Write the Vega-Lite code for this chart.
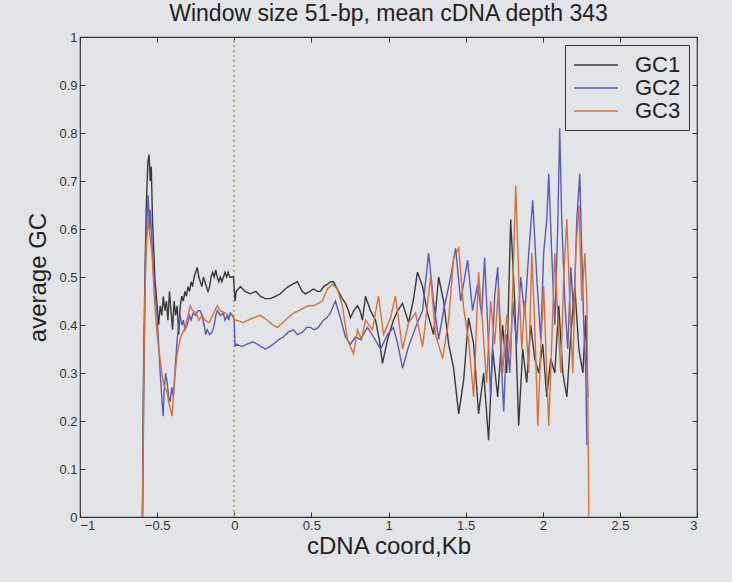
{
  "$schema": "https://vega.github.io/schema/vega-lite/v6.json",
  "width": 617,
  "height": 480,
  "autosize": "none",
  "padding": {"left": 80, "top": 37, "right": 35, "bottom": 65},
  "background": "#e3e4e7",
  "title": {"text": "Window size 51-bp, mean cDNA depth 343", "fontSize": 23, "font": "Liberation Sans", "fontWeight": "normal", "color": "#222", "offset": 5},
  "config": {
    "view": {"stroke": "#333", "strokeWidth": 1.2},
    "axis": {"labelFont": "Liberation Sans", "titleFont": "Liberation Sans", "labelColor": "#333", "titleColor": "#222", "domainColor": "#333", "tickColor": "#333", "grid": false, "labelFontSize": 13, "titleFontSize": 24, "titleFontWeight": "normal"}
  },
  "data": {"values": [
    {"s":"GC1","x":-0.595,"y":0},{"s":"GC1","x":-0.59,"y":0.25},{"s":"GC1","x":-0.58,"y":0.48},{"s":"GC1","x":-0.57,"y":0.65},{"s":"GC1","x":-0.56,"y":0.74},{"s":"GC1","x":-0.552,"y":0.755},{"s":"GC1","x":-0.545,"y":0.7},{"s":"GC1","x":-0.538,"y":0.73},{"s":"GC1","x":-0.53,"y":0.62},{"s":"GC1","x":-0.515,"y":0.5},{"s":"GC1","x":-0.5,"y":0.44},{"s":"GC1","x":-0.49,"y":0.4},{"s":"GC1","x":-0.48,"y":0.44},{"s":"GC1","x":-0.47,"y":0.42},{"s":"GC1","x":-0.46,"y":0.46},{"s":"GC1","x":-0.45,"y":0.43},{"s":"GC1","x":-0.44,"y":0.45},{"s":"GC1","x":-0.43,"y":0.41},{"s":"GC1","x":-0.42,"y":0.47},{"s":"GC1","x":-0.41,"y":0.43},{"s":"GC1","x":-0.4,"y":0.39},{"s":"GC1","x":-0.39,"y":0.45},{"s":"GC1","x":-0.38,"y":0.42},{"s":"GC1","x":-0.37,"y":0.44},{"s":"GC1","x":-0.36,"y":0.38},{"s":"GC1","x":-0.35,"y":0.44},{"s":"GC1","x":-0.34,"y":0.46},{"s":"GC1","x":-0.33,"y":0.45},{"s":"GC1","x":-0.32,"y":0.47},{"s":"GC1","x":-0.31,"y":0.46},{"s":"GC1","x":-0.3,"y":0.48},{"s":"GC1","x":-0.29,"y":0.47},{"s":"GC1","x":-0.28,"y":0.49},{"s":"GC1","x":-0.27,"y":0.48},{"s":"GC1","x":-0.26,"y":0.5},{"s":"GC1","x":-0.25,"y":0.51},{"s":"GC1","x":-0.24,"y":0.52},{"s":"GC1","x":-0.23,"y":0.5},{"s":"GC1","x":-0.22,"y":0.49},{"s":"GC1","x":-0.21,"y":0.48},{"s":"GC1","x":-0.2,"y":0.5},{"s":"GC1","x":-0.19,"y":0.49},{"s":"GC1","x":-0.18,"y":0.48},{"s":"GC1","x":-0.17,"y":0.47},{"s":"GC1","x":-0.16,"y":0.48},{"s":"GC1","x":-0.15,"y":0.5},{"s":"GC1","x":-0.14,"y":0.51},{"s":"GC1","x":-0.13,"y":0.5},{"s":"GC1","x":-0.12,"y":0.515},{"s":"GC1","x":-0.11,"y":0.5},{"s":"GC1","x":-0.1,"y":0.49},{"s":"GC1","x":-0.09,"y":0.5},{"s":"GC1","x":-0.08,"y":0.49},{"s":"GC1","x":-0.07,"y":0.5},{"s":"GC1","x":-0.06,"y":0.51},{"s":"GC1","x":-0.05,"y":0.5},{"s":"GC1","x":-0.04,"y":0.51},{"s":"GC1","x":-0.03,"y":0.5},{"s":"GC1","x":-0.015,"y":0.5},{"s":"GC1","x":-0.005,"y":0.5},{"s":"GC1","x":0.005,"y":0.45},{"s":"GC1","x":0.013,"y":0.47},{"s":"GC1","x":0.04,"y":0.48},{"s":"GC1","x":0.07,"y":0.47},{"s":"GC1","x":0.104,"y":0.465},{"s":"GC1","x":0.14,"y":0.47},{"s":"GC1","x":0.169,"y":0.46},{"s":"GC1","x":0.2,"y":0.455},{"s":"GC1","x":0.234,"y":0.455},{"s":"GC1","x":0.27,"y":0.46},{"s":"GC1","x":0.299,"y":0.465},{"s":"GC1","x":0.33,"y":0.475},{"s":"GC1","x":0.351,"y":0.48},{"s":"GC1","x":0.38,"y":0.485},{"s":"GC1","x":0.409,"y":0.49},{"s":"GC1","x":0.44,"y":0.47},{"s":"GC1","x":0.461,"y":0.465},{"s":"GC1","x":0.49,"y":0.47},{"s":"GC1","x":0.513,"y":0.475},{"s":"GC1","x":0.54,"y":0.47},{"s":"GC1","x":0.558,"y":0.47},{"s":"GC1","x":0.58,"y":0.48},{"s":"GC1","x":0.604,"y":0.485},{"s":"GC1","x":0.625,"y":0.49},{"s":"GC1","x":0.643,"y":0.49},{"s":"GC1","x":0.66,"y":0.48},{"s":"GC1","x":0.675,"y":0.47},{"s":"GC1","x":0.7,"y":0.455},{"s":"GC1","x":0.721,"y":0.445},{"s":"GC1","x":0.74,"y":0.43},{"s":"GC1","x":0.753,"y":0.415},{"s":"GC1","x":0.775,"y":0.43},{"s":"GC1","x":0.799,"y":0.44},{"s":"GC1","x":0.815,"y":0.43},{"s":"GC1","x":0.831,"y":0.41},{"s":"GC1","x":0.851,"y":0.46},{"s":"GC1","x":0.883,"y":0.43},{"s":"GC1","x":0.916,"y":0.41},{"s":"GC1","x":0.94,"y":0.37},{"s":"GC1","x":0.961,"y":0.32},{"s":"GC1","x":0.994,"y":0.37},{"s":"GC1","x":1.032,"y":0.41},{"s":"GC1","x":1.06,"y":0.43},{"s":"GC1","x":1.091,"y":0.445},{"s":"GC1","x":1.13,"y":0.405},{"s":"GC1","x":1.16,"y":0.45},{"s":"GC1","x":1.188,"y":0.51},{"s":"GC1","x":1.221,"y":0.48},{"s":"GC1","x":1.253,"y":0.425},{"s":"GC1","x":1.292,"y":0.38},{"s":"GC1","x":1.325,"y":0.5},{"s":"GC1","x":1.357,"y":0.45},{"s":"GC1","x":1.39,"y":0.36},{"s":"GC1","x":1.422,"y":0.31},{"s":"GC1","x":1.455,"y":0.215},{"s":"GC1","x":1.487,"y":0.285},{"s":"GC1","x":1.519,"y":0.415},{"s":"GC1","x":1.552,"y":0.36},{"s":"GC1","x":1.584,"y":0.215},{"s":"GC1","x":1.617,"y":0.3},{"s":"GC1","x":1.649,"y":0.16},{"s":"GC1","x":1.675,"y":0.35},{"s":"GC1","x":1.708,"y":0.25},{"s":"GC1","x":1.74,"y":0.4},{"s":"GC1","x":1.766,"y":0.3},{"s":"GC1","x":1.792,"y":0.62},{"s":"GC1","x":1.818,"y":0.45},{"s":"GC1","x":1.844,"y":0.19},{"s":"GC1","x":1.87,"y":0.35},{"s":"GC1","x":1.896,"y":0.28},{"s":"GC1","x":1.922,"y":0.4},{"s":"GC1","x":1.948,"y":0.33},{"s":"GC1","x":1.974,"y":0.3},{"s":"GC1","x":2.0,"y":0.36},{"s":"GC1","x":2.026,"y":0.25},{"s":"GC1","x":2.052,"y":0.33},{"s":"GC1","x":2.078,"y":0.3},{"s":"GC1","x":2.104,"y":0.44},{"s":"GC1","x":2.13,"y":0.3},{"s":"GC1","x":2.156,"y":0.25},{"s":"GC1","x":2.182,"y":0.38},{"s":"GC1","x":2.208,"y":0.48},{"s":"GC1","x":2.234,"y":0.35},{"s":"GC1","x":2.26,"y":0.3},{"s":"GC1","x":2.279,"y":0.42},{"s":"GC1","x":2.292,"y":0.25},

    {"s":"GC2","x":-0.595,"y":0},{"s":"GC2","x":-0.585,"y":0.3},{"s":"GC2","x":-0.575,"y":0.55},{"s":"GC2","x":-0.565,"y":0.63},{"s":"GC2","x":-0.558,"y":0.67},{"s":"GC2","x":-0.55,"y":0.6},{"s":"GC2","x":-0.545,"y":0.64},{"s":"GC2","x":-0.535,"y":0.58},{"s":"GC2","x":-0.525,"y":0.52},{"s":"GC2","x":-0.515,"y":0.47},{"s":"GC2","x":-0.5,"y":0.42},{"s":"GC2","x":-0.49,"y":0.36},{"s":"GC2","x":-0.48,"y":0.3},{"s":"GC2","x":-0.47,"y":0.25},{"s":"GC2","x":-0.461,"y":0.21},{"s":"GC2","x":-0.455,"y":0.26},{"s":"GC2","x":-0.445,"y":0.3},{"s":"GC2","x":-0.435,"y":0.28},{"s":"GC2","x":-0.425,"y":0.25},{"s":"GC2","x":-0.416,"y":0.24},{"s":"GC2","x":-0.405,"y":0.27},{"s":"GC2","x":-0.395,"y":0.25},{"s":"GC2","x":-0.383,"y":0.31},{"s":"GC2","x":-0.37,"y":0.37},{"s":"GC2","x":-0.36,"y":0.4},{"s":"GC2","x":-0.351,"y":0.42},{"s":"GC2","x":-0.34,"y":0.4},{"s":"GC2","x":-0.33,"y":0.41},{"s":"GC2","x":-0.32,"y":0.39},{"s":"GC2","x":-0.305,"y":0.4},{"s":"GC2","x":-0.29,"y":0.42},{"s":"GC2","x":-0.28,"y":0.41},{"s":"GC2","x":-0.266,"y":0.425},{"s":"GC2","x":-0.25,"y":0.42},{"s":"GC2","x":-0.235,"y":0.43},{"s":"GC2","x":-0.221,"y":0.43},{"s":"GC2","x":-0.21,"y":0.42},{"s":"GC2","x":-0.195,"y":0.4},{"s":"GC2","x":-0.185,"y":0.38},{"s":"GC2","x":-0.175,"y":0.39},{"s":"GC2","x":-0.16,"y":0.38},{"s":"GC2","x":-0.143,"y":0.385},{"s":"GC2","x":-0.13,"y":0.4},{"s":"GC2","x":-0.12,"y":0.42},{"s":"GC2","x":-0.11,"y":0.43},{"s":"GC2","x":-0.09,"y":0.42},{"s":"GC2","x":-0.071,"y":0.425},{"s":"GC2","x":-0.06,"y":0.41},{"s":"GC2","x":-0.045,"y":0.42},{"s":"GC2","x":-0.035,"y":0.41},{"s":"GC2","x":-0.026,"y":0.425},{"s":"GC2","x":-0.01,"y":0.42},{"s":"GC2","x":0.0,"y":0.41},{"s":"GC2","x":0.005,"y":0.355},{"s":"GC2","x":0.013,"y":0.36},{"s":"GC2","x":0.05,"y":0.355},{"s":"GC2","x":0.084,"y":0.36},{"s":"GC2","x":0.12,"y":0.365},{"s":"GC2","x":0.149,"y":0.36},{"s":"GC2","x":0.175,"y":0.355},{"s":"GC2","x":0.201,"y":0.35},{"s":"GC2","x":0.23,"y":0.355},{"s":"GC2","x":0.253,"y":0.36},{"s":"GC2","x":0.29,"y":0.37},{"s":"GC2","x":0.318,"y":0.375},{"s":"GC2","x":0.35,"y":0.385},{"s":"GC2","x":0.383,"y":0.39},{"s":"GC2","x":0.41,"y":0.38},{"s":"GC2","x":0.442,"y":0.385},{"s":"GC2","x":0.47,"y":0.395},{"s":"GC2","x":0.494,"y":0.395},{"s":"GC2","x":0.52,"y":0.39},{"s":"GC2","x":0.545,"y":0.395},{"s":"GC2","x":0.578,"y":0.41},{"s":"GC2","x":0.6,"y":0.415},{"s":"GC2","x":0.623,"y":0.425},{"s":"GC2","x":0.656,"y":0.45},{"s":"GC2","x":0.688,"y":0.415},{"s":"GC2","x":0.721,"y":0.375},{"s":"GC2","x":0.753,"y":0.36},{"s":"GC2","x":0.786,"y":0.375},{"s":"GC2","x":0.818,"y":0.37},{"s":"GC2","x":0.864,"y":0.395},{"s":"GC2","x":0.903,"y":0.375},{"s":"GC2","x":0.948,"y":0.35},{"s":"GC2","x":0.994,"y":0.38},{"s":"GC2","x":1.032,"y":0.395},{"s":"GC2","x":1.06,"y":0.36},{"s":"GC2","x":1.091,"y":0.31},{"s":"GC2","x":1.13,"y":0.355},{"s":"GC2","x":1.175,"y":0.395},{"s":"GC2","x":1.221,"y":0.43},{"s":"GC2","x":1.26,"y":0.55},{"s":"GC2","x":1.292,"y":0.45},{"s":"GC2","x":1.325,"y":0.37},{"s":"GC2","x":1.357,"y":0.43},{"s":"GC2","x":1.403,"y":0.5},{"s":"GC2","x":1.435,"y":0.56},{"s":"GC2","x":1.468,"y":0.45},{"s":"GC2","x":1.513,"y":0.535},{"s":"GC2","x":1.545,"y":0.43},{"s":"GC2","x":1.578,"y":0.485},{"s":"GC2","x":1.604,"y":0.42},{"s":"GC2","x":1.623,"y":0.54},{"s":"GC2","x":1.643,"y":0.4},{"s":"GC2","x":1.662,"y":0.25},{"s":"GC2","x":1.688,"y":0.46},{"s":"GC2","x":1.708,"y":0.52},{"s":"GC2","x":1.727,"y":0.35},{"s":"GC2","x":1.747,"y":0.22},{"s":"GC2","x":1.766,"y":0.38},{"s":"GC2","x":1.786,"y":0.3},{"s":"GC2","x":1.805,"y":0.45},{"s":"GC2","x":1.831,"y":0.36},{"s":"GC2","x":1.857,"y":0.5},{"s":"GC2","x":1.883,"y":0.42},{"s":"GC2","x":1.909,"y":0.55},{"s":"GC2","x":1.935,"y":0.66},{"s":"GC2","x":1.961,"y":0.5},{"s":"GC2","x":1.987,"y":0.37},{"s":"GC2","x":2.006,"y":0.55},{"s":"GC2","x":2.026,"y":0.62},{"s":"GC2","x":2.039,"y":0.715},{"s":"GC2","x":2.058,"y":0.55},{"s":"GC2","x":2.078,"y":0.4},{"s":"GC2","x":2.097,"y":0.6},{"s":"GC2","x":2.11,"y":0.81},{"s":"GC2","x":2.123,"y":0.62},{"s":"GC2","x":2.143,"y":0.45},{"s":"GC2","x":2.162,"y":0.35},{"s":"GC2","x":2.182,"y":0.52},{"s":"GC2","x":2.201,"y":0.42},{"s":"GC2","x":2.221,"y":0.62},{"s":"GC2","x":2.24,"y":0.715},{"s":"GC2","x":2.253,"y":0.55},{"s":"GC2","x":2.266,"y":0.4},{"s":"GC2","x":2.279,"y":0.3},{"s":"GC2","x":2.286,"y":0.15},

    {"s":"GC3","x":-0.595,"y":0},{"s":"GC3","x":-0.588,"y":0.25},{"s":"GC3","x":-0.58,"y":0.45},{"s":"GC3","x":-0.57,"y":0.56},{"s":"GC3","x":-0.56,"y":0.62},{"s":"GC3","x":-0.552,"y":0.6},{"s":"GC3","x":-0.545,"y":0.58},{"s":"GC3","x":-0.535,"y":0.555},{"s":"GC3","x":-0.525,"y":0.5},{"s":"GC3","x":-0.515,"y":0.44},{"s":"GC3","x":-0.5,"y":0.38},{"s":"GC3","x":-0.49,"y":0.35},{"s":"GC3","x":-0.481,"y":0.33},{"s":"GC3","x":-0.47,"y":0.3},{"s":"GC3","x":-0.46,"y":0.28},{"s":"GC3","x":-0.45,"y":0.27},{"s":"GC3","x":-0.435,"y":0.26},{"s":"GC3","x":-0.425,"y":0.24},{"s":"GC3","x":-0.41,"y":0.22},{"s":"GC3","x":-0.403,"y":0.21},{"s":"GC3","x":-0.395,"y":0.25},{"s":"GC3","x":-0.383,"y":0.3},{"s":"GC3","x":-0.37,"y":0.34},{"s":"GC3","x":-0.351,"y":0.37},{"s":"GC3","x":-0.34,"y":0.38},{"s":"GC3","x":-0.318,"y":0.395},{"s":"GC3","x":-0.3,"y":0.42},{"s":"GC3","x":-0.286,"y":0.44},{"s":"GC3","x":-0.27,"y":0.43},{"s":"GC3","x":-0.247,"y":0.425},{"s":"GC3","x":-0.23,"y":0.41},{"s":"GC3","x":-0.208,"y":0.42},{"s":"GC3","x":-0.19,"y":0.41},{"s":"GC3","x":-0.162,"y":0.405},{"s":"GC3","x":-0.14,"y":0.42},{"s":"GC3","x":-0.11,"y":0.44},{"s":"GC3","x":-0.09,"y":0.43},{"s":"GC3","x":-0.058,"y":0.425},{"s":"GC3","x":-0.04,"y":0.42},{"s":"GC3","x":-0.013,"y":0.42},{"s":"GC3","x":0.005,"y":0.41},{"s":"GC3","x":0.013,"y":0.41},{"s":"GC3","x":0.058,"y":0.405},{"s":"GC3","x":0.09,"y":0.41},{"s":"GC3","x":0.123,"y":0.415},{"s":"GC3","x":0.169,"y":0.42},{"s":"GC3","x":0.214,"y":0.41},{"s":"GC3","x":0.25,"y":0.4},{"s":"GC3","x":0.279,"y":0.395},{"s":"GC3","x":0.331,"y":0.41},{"s":"GC3","x":0.383,"y":0.425},{"s":"GC3","x":0.42,"y":0.43},{"s":"GC3","x":0.448,"y":0.435},{"s":"GC3","x":0.48,"y":0.44},{"s":"GC3","x":0.513,"y":0.44},{"s":"GC3","x":0.545,"y":0.445},{"s":"GC3","x":0.571,"y":0.45},{"s":"GC3","x":0.604,"y":0.475},{"s":"GC3","x":0.636,"y":0.485},{"s":"GC3","x":0.669,"y":0.475},{"s":"GC3","x":0.701,"y":0.44},{"s":"GC3","x":0.734,"y":0.37},{"s":"GC3","x":0.773,"y":0.34},{"s":"GC3","x":0.799,"y":0.39},{"s":"GC3","x":0.825,"y":0.37},{"s":"GC3","x":0.851,"y":0.41},{"s":"GC3","x":0.896,"y":0.39},{"s":"GC3","x":0.935,"y":0.46},{"s":"GC3","x":0.968,"y":0.38},{"s":"GC3","x":1.013,"y":0.415},{"s":"GC3","x":1.045,"y":0.46},{"s":"GC3","x":1.091,"y":0.35},{"s":"GC3","x":1.13,"y":0.405},{"s":"GC3","x":1.175,"y":0.425},{"s":"GC3","x":1.221,"y":0.355},{"s":"GC3","x":1.273,"y":0.5},{"s":"GC3","x":1.305,"y":0.38},{"s":"GC3","x":1.351,"y":0.33},{"s":"GC3","x":1.39,"y":0.41},{"s":"GC3","x":1.422,"y":0.54},{"s":"GC3","x":1.455,"y":0.56},{"s":"GC3","x":1.487,"y":0.435},{"s":"GC3","x":1.519,"y":0.37},{"s":"GC3","x":1.552,"y":0.25},{"s":"GC3","x":1.584,"y":0.51},{"s":"GC3","x":1.61,"y":0.4},{"s":"GC3","x":1.636,"y":0.28},{"s":"GC3","x":1.662,"y":0.45},{"s":"GC3","x":1.688,"y":0.36},{"s":"GC3","x":1.714,"y":0.48},{"s":"GC3","x":1.74,"y":0.3},{"s":"GC3","x":1.766,"y":0.42},{"s":"GC3","x":1.792,"y":0.33},{"s":"GC3","x":1.812,"y":0.55},{"s":"GC3","x":1.825,"y":0.69},{"s":"GC3","x":1.844,"y":0.5},{"s":"GC3","x":1.864,"y":0.35},{"s":"GC3","x":1.883,"y":0.45},{"s":"GC3","x":1.909,"y":0.3},{"s":"GC3","x":1.929,"y":0.55},{"s":"GC3","x":1.948,"y":0.4},{"s":"GC3","x":1.968,"y":0.19},{"s":"GC3","x":1.987,"y":0.35},{"s":"GC3","x":2.006,"y":0.48},{"s":"GC3","x":2.026,"y":0.3},{"s":"GC3","x":2.039,"y":0.19},{"s":"GC3","x":2.058,"y":0.36},{"s":"GC3","x":2.078,"y":0.55},{"s":"GC3","x":2.097,"y":0.42},{"s":"GC3","x":2.117,"y":0.3},{"s":"GC3","x":2.136,"y":0.5},{"s":"GC3","x":2.156,"y":0.62},{"s":"GC3","x":2.175,"y":0.45},{"s":"GC3","x":2.195,"y":0.3},{"s":"GC3","x":2.214,"y":0.55},{"s":"GC3","x":2.234,"y":0.65},{"s":"GC3","x":2.253,"y":0.45},{"s":"GC3","x":2.273,"y":0.55},{"s":"GC3","x":2.286,"y":0.45},{"s":"GC3","x":2.299,"y":0}
  ]},
  "layer": [
    {
      "mark": {"type": "rule", "color": "#c9a27a", "strokeDash": [2, 3], "strokeWidth": 1.2},
      "encoding": {
        "x": {"datum": 0, "type": "quantitative", "axis": {"orient": "top", "labels": false, "title": null, "tickSize": -5, "values": [-1,-0.5,0,0.5,1,1.5,2,2.5,3], "domain": false}},
        "y": {"datum": 0, "type": "quantitative", "axis": {"orient": "right", "labels": false, "title": null, "tickSize": -5, "values": [0,0.1,0.2,0.3,0.4,0.5,0.6,0.7,0.8,0.9,1], "domain": false}},
        "y2": {"datum": 1}
      }
    },
    {
      "mark": {"type": "line", "strokeWidth": 1.4, "clip": true},
      "encoding": {
        "x": {"field": "x", "type": "quantitative", "scale": {"domain": [-1, 3], "nice": false, "zero": false},
              "axis": {"title": "cDNA coord,Kb", "values": [-1,-0.5,0,0.5,1,1.5,2,2.5,3], "format": ".1~f", "tickSize": -5, "labelPadding": 7, "titlePadding": 2, "domain": false}},
        "y": {"field": "y", "type": "quantitative", "scale": {"domain": [0, 1], "nice": false},
              "axis": {"title": "average GC", "values": [0,0.1,0.2,0.3,0.4,0.5,0.6,0.7,0.8,0.9,1], "format": ".1~f", "tickSize": -5, "labelPadding": 8, "titlePadding": 8, "domain": false}},
        "color": {"field": "s", "type": "nominal",
                  "scale": {"domain": ["GC1","GC2","GC3"], "range": ["#3a3a3a", "#5a5ab8", "#d8703a"]},
                  "legend": {"title": null, "orient": "top-right", "offset": 8, "symbolType": "M-1,0H3", "symbolSize": 484, "symbolStrokeWidth": 1.5, "labelFontSize": 22, "labelFont": "Liberation Sans", "labelColor": "#222", "strokeColor": "#333", "fillColor": "#e3e4e7", "padding": 8, "rowPadding": 0, "labelOffset": 38}},
        "order": {"field": "x", "type": "quantitative"}
      }
    }
  ],
  "resolve": {"axis": {"x": "independent", "y": "independent"}}
}
